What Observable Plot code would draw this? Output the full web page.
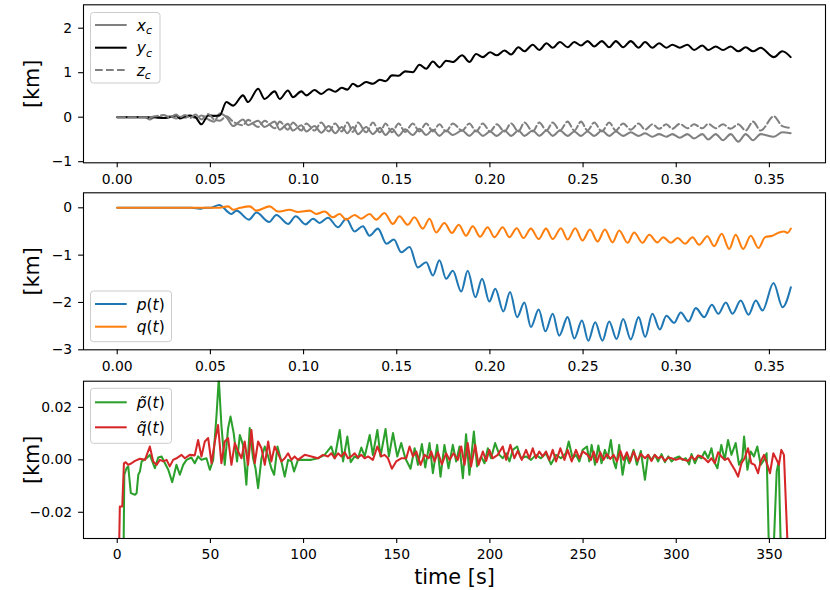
<!DOCTYPE html>
<html><head><meta charset="utf-8">
<script src="https://cdn.jsdelivr.net/npm/d3@7"></script>
<script src="https://cdn.jsdelivr.net/npm/@observablehq/plot@0.6"></script>
<style>
html,body{margin:0;padding:0;background:#fff;overflow:hidden;}
#chart{width:830px;height:590px;position:relative;font-family:"DejaVu Sans";}
#chart svg{display:block;}
</style></head><body><div id="chart"></div>
<script>
// ---------- Panel 1: x_c, y_c, z_c (time in s; axis shows t/1000) ----------
const T1 = [0,15,17.5,20,25,28,31.8,33.6,36.5,39,
42,45.2,48.8,52,55,58.6,62.2,67.5,70.2,75.6,
79.1,84.5,87.2,91.6,94.3,98.8,101.5,105.9,109.5,113.5,
117,120.5,123.5,126.5,129.2,133.6,137.2,141,144,147.5,
151,154.5,158.6,162.2,165.8,169.4,172.9,176.5,180.1,185.1,
189,192.6,196.2,200.1,203.7,207.8,211.4,215.3,218.5,223,
226.5,230.4,233.7,237.6,241.7,245.3,248.9,252.4,256,260.1,
264,267.6,271.5,275.6,279.8,283.3,287.2,290.8,294.7,297.9,
301.9,306,309.6,314,317.2,321.2,325.1,329.2,333.3,337.3,
341.2,345.3,352.4,356.9,361.4];
const YC = [0,0,0,0,-0.02,0,0.04,-0.03,0.02,0.04,
0,-0.16,0.04,0.03,0.04,0.34,0.26,0.49,0.34,0.64,
0.41,0.58,0.41,0.60,0.45,0.58,0.49,0.61,0.52,0.63,
0.57,0.66,0.62,0.75,0.69,0.79,0.75,0.84,0.81,0.94,
0.93,1.03,1.01,1.18,1.09,1.25,1.12,1.27,1.24,1.39,
1.24,1.42,1.35,1.46,1.39,1.50,1.41,1.57,1.48,1.63,
1.51,1.66,1.56,1.69,1.57,1.69,1.61,1.71,1.59,1.71,
1.57,1.71,1.57,1.71,1.56,1.69,1.56,1.66,1.56,1.63,
1.56,1.63,1.51,1.61,1.51,1.59,1.51,1.59,1.48,1.57,
1.48,1.56,1.35,1.48,1.35];
const XC = [0,0,-0.05,0,-0.02,0.02,-0.03,0.01,-0.01,0.03,
-0.02,0.04,-0.05,-0.1,0.08,0,-0.2,-0.05,-0.18,-0.08,
-0.22,-0.1,-0.28,-0.15,-0.3,-0.18,-0.32,-0.2,-0.35,-0.2,
-0.36,-0.22,-0.36,-0.22,-0.38,-0.22,-0.38,-0.24,-0.4,-0.26,
-0.42,-0.27,-0.4,-0.26,-0.4,-0.28,-0.42,-0.3,-0.4,-0.3,
-0.42,-0.3,-0.42,-0.32,-0.42,-0.3,-0.42,-0.3,-0.42,-0.3,
-0.42,-0.3,-0.42,-0.3,-0.42,-0.32,-0.42,-0.32,-0.42,-0.3,
-0.42,-0.32,-0.42,-0.34,-0.42,-0.36,-0.44,-0.38,-0.44,-0.38,
-0.46,-0.38,-0.48,-0.38,-0.5,-0.38,-0.52,-0.38,-0.55,-0.38,
-0.52,-0.38,-0.44,-0.34,-0.36];
const ZC = [0,0,0,0.02,0.05,0,0.06,0,0.05,-0.02,
0.06,-0.05,0.07,-0.05,-0.08,0.02,-0.1,-0.18,-0.06,-0.22,
-0.08,-0.25,-0.1,-0.28,-0.12,-0.3,-0.14,-0.3,-0.12,-0.32,
-0.14,-0.32,-0.12,-0.33,-0.12,-0.34,-0.12,-0.34,-0.14,-0.34,
-0.14,-0.33,-0.14,-0.32,-0.14,-0.32,-0.16,-0.32,-0.14,-0.3,
-0.14,-0.32,-0.14,-0.32,-0.16,-0.32,-0.14,-0.32,-0.12,-0.32,
-0.12,-0.3,-0.12,-0.3,-0.1,-0.3,-0.1,-0.3,-0.12,-0.32,
-0.12,-0.3,-0.14,-0.28,-0.14,-0.28,-0.16,-0.26,-0.16,-0.26,
-0.15,-0.25,-0.16,-0.25,-0.15,-0.25,-0.16,-0.26,-0.16,-0.3,
-0.1,-0.3,0.02,-0.2,-0.24];

// ---------- Panel 2: p(t), q(t) ----------
const TP = [0,40,44.3,47,50,54.7,61.3,64,70.7,74.7,
81.5,85.4,91.7,95.8,101.1,105.1,108.6,113.1,118.5,122.9,
127.4,131.8,135.4,139.9,144.5,148.5,152.4,156.9,161.3,165.8,
169.4,172.9,176.5,180.1,184.6,188.1,192.2,195.8,199.7,202.9,
207.2,210.8,214.6,218.5,222,226.2,229.8,233.7,237.2,241.7,
245.3,249.4,252.8,256.5,260.4,264,268,271.5,275.6,279.8,
283.3,287.2,291.2,294.7,298.9,302.4,306.6,310.5,315,319.1,
322.6,326.6,330.2,334.6,338.8,342.7,346.3,352.2,357.1,361.5];
const PV = [0,0,-0.02,0,0,0.06,-0.13,-0.06,-0.25,-0.10,
-0.30,-0.15,-0.34,-0.18,-0.35,-0.23,-0.32,-0.21,-0.41,-0.23,
-0.50,-0.39,-0.59,-0.44,-0.76,-0.67,-0.94,-0.83,-1.26,-1.15,
-1.43,-1.11,-1.50,-1.33,-1.77,-1.33,-1.89,-1.50,-1.98,-1.71,
-2.19,-1.78,-2.31,-2.00,-2.52,-2.15,-2.61,-2.24,-2.70,-2.31,
-2.76,-2.38,-2.81,-2.42,-2.81,-2.40,-2.77,-2.35,-2.78,-2.31,
-2.73,-2.24,-2.57,-2.28,-2.43,-2.21,-2.40,-2.12,-2.31,-2.05,
-2.24,-2.00,-2.24,-1.96,-2.26,-1.96,-2.17,-1.59,-2.10,-1.68];
const TQ = [0,40,50,55,59.5,62.2,66,71.1,74.7,81.8,
86.3,92.5,97,103.3,106.8,111.3,115.8,119.3,122.9,127.4,
130.9,135.4,139,143.4,147.9,151.5,155.9,159.5,164,167.6,
171.1,175.6,179.6,183.3,187.2,190.8,194.7,198.8,202.4,206.9,
210.4,214.4,218,222,226.2,230.1,233.7,238.1,241.7,245.8,
249.7,253.7,257.8,261.7,265.8,269.4,273.9,277.4,281.9,285.5,
289.9,293,297.1,300.7,304.8,308.7,312.3,316.7,320.3,324.4,
328.4,331.9,335.9,340,344.1,347.7,351.6,355.2,357.9,359.7,
361.5];
const QV = [0,0,0,0,0.03,-0.04,0,0.03,-0.06,0.03,
-0.08,-0.04,-0.09,-0.06,-0.13,-0.08,-0.20,-0.13,-0.25,-0.15,
-0.23,-0.13,-0.25,-0.11,-0.34,-0.18,-0.36,-0.20,-0.44,-0.23,
-0.52,-0.32,-0.53,-0.36,-0.59,-0.39,-0.61,-0.41,-0.62,-0.41,
-0.62,-0.43,-0.64,-0.44,-0.66,-0.44,-0.66,-0.43,-0.67,-0.43,
-0.69,-0.46,-0.71,-0.46,-0.73,-0.48,-0.74,-0.52,-0.74,-0.57,
-0.73,-0.62,-0.74,-0.64,-0.76,-0.62,-0.78,-0.60,-0.81,-0.55,
-0.87,-0.57,-0.87,-0.59,-0.85,-0.62,-0.59,-0.52,-0.50,-0.53,
-0.44];

// ---------- Panel 3: p~(t), q~(t)  [t (s), value (km)] ----------
const PTILDE = [[0,-0.06],[3.2,-0.05],[3.8,-0.0057],[5.0,-0.0032],[5.9,-0.0025],[7.3,-0.0127],[9.5,-0.0133],[10.4,-0.0127],[11.3,-0.0057],[12.2,-0.0044],
[13.1,-0.0006],[14.5,0],[15.7,0.0006],[17.5,0.0019],[20.2,-0.0032],[22.0,0.0009],[23.8,0.0013],[25.6,-0.0013],[27.4,-0.0038],[29.5,-0.0085],
[31.8,-0.0019],[33.6,-0.0057],[35.4,-0.0019],[37.2,0],[39.8,0.0009],[41.6,-0.0013],[43.4,0.0013],[45.2,0],[47.9,0.0006],[49.7,-0.0038],
[51.5,0],[53.3,0.0172],[54.5,0.031],[55.9,0.0133],[57.7,-0.0019],[59.5,0.0121],[60.8,0.0165],[62.5,0.0102],[64.3,-0.0006],[65.8,0.0095],
[67.5,0.0057],[69.3,-0.0095],[71.1,0.0121],[72.9,0.0006],[74.2,-0.0032],[75.6,-0.0108],[77.4,0.0006],[79.2,0.0051],[81.0,0.0013],[82.7,-0.0032],
[84.2,-0.0057],[86.0,0.0051],[88.1,-0.0006],[89.9,-0.0064],[91.7,0],[93.5,-0.0006],[94.9,-0.0044],[97.0,0],[100.6,0],[104.2,0],
[107.7,0.0006],[111.3,0.0019],[114.9,0.0051],[116.7,0.0006],[119.4,0.0114],[121.2,-0.0006],[123.5,0.0089],[125.3,-0.0009],[127.4,0.0013],[129.2,0.0006],
[131.0,0.0047],[132.8,0.0013],[135.5,0.0095],[137.2,0.0019],[139.6,0.0114],[141.3,0.0013],[144.0,0.0118],[145.8,0.0013],[148.0,0.0102],[150.3,0.0013],
[152.4,0.0064],[154.6,0.0006],[157.4,-0.0034],[159.6,0.0044],[161.4,-0.0019],[163.5,0.0060],[165.3,-0.0029],[167.6,0.0064],[169.4,-0.0051],[171.7,0.0057],
[173.5,-0.0064],[175.6,0.0057],[177.8,-0.0032],[180.1,0.0057],[181.9,-0.0006],[183.7,0.0051],[185.5,-0.0070],[187.2,0.0098],[189.0,-0.0057],[191.4,0.0108],
[193.1,-0.0025],[195.3,0.0013],[197.1,-0.0013],[198.9,0.0044],[200.6,0.0006],[202.8,0.0064],[205.1,0.0019],[206.9,0.0006],[208.7,0.0025],[210.5,-0.0006],
[212.3,0.0038],[214.6,0.0051],[216.7,0.0006],[219.4,0.0013],[222.1,0],[224.7,0.0019],[227.4,0.0006],[230.1,0.0025],[232.8,-0.0017],[235.5,0.0019],
[238.1,0.0006],[240.8,0.0025],[242.3,0.0070],[244.4,0.0006],[246.2,0.0019],[248.0,-0.0006],[249.8,0.0038],[252.1,0.0051],[253.3,-0.0006],[254.6,0.0057],
[256.4,-0.0019],[258.2,0.0055],[259.9,-0.0013],[261.7,0.0038],[263.2,0.0006],[264.9,0.0076],[266.4,-0.0006],[267.6,-0.0032],[269.4,0.0057],[271.2,-0.0057],
[273.0,0.0019],[274.8,-0.0013],[277.1,0.0038],[278.9,-0.0019],[281.0,0.0034],[283.2,-0.0076],[284.9,0.0019],[286.7,0],[288.5,0.0019],[290.3,-0.0006],
[292.1,0.0022],[293.9,-0.0009],[295.7,0.0013],[297.5,-0.0006],[299.2,0.0006],[301.6,0.0013],[303.3,0],[305.1,0.0006],[306.9,-0.0017],[308.2,0.0022],
[310.0,-0.0013],[311.7,0.0013],[313.5,0.0006],[315.3,0.0032],[317.1,0.0006],[318.9,0.0044],[320.3,-0.0006],[322.1,-0.0032],[324.2,0.0057],[326.0,0],
[327.8,0.0076],[329.6,0.0019],[331.9,0.0064],[333.7,-0.0019],[335.5,0.0006],[336.4,0.0089],[338.2,-0.0038],[340.0,0.0032],[341.7,0.0013],[343.5,0.0051],
[345.3,-0.0019],[347.1,0],[348.5,0.0025],[349.6,-0.0299],[351.0,-0.044],[352.5,-0.0299],[353.9,-0.0044],[355.0,-0.0006],[356.0,-0.031],[357.5,-0.044],
[362,-0.05]];
const QTILDE = [[0,-0.06],[0.6,-0.05],[1.4,-0.0178],[2.7,-0.0178],[3.6,-0.0013],[4.5,-0.0009],[5.9,-0.0019],[7.7,-0.0013],[9.5,-0.0004],[12.2,0.0004],
[14.9,0],[17.5,0.0051],[19.3,-0.0006],[21.1,-0.0019],[22.9,0],[24.7,-0.0006],[26.5,0],[28.2,-0.0025],[30.0,0],[31.8,0.0006],
[34.5,0.0019],[36.3,0.0006],[38.9,0.0019],[41.6,0.0017],[43.4,0.0076],[45.2,0.0013],[47.0,0.0070],[48.8,0.0083],[50.6,-0.0013],[52.4,0.0070],
[54.1,0.0133],[55.9,-0.0013],[57.7,0.0070],[59.5,0.0083],[61.3,-0.0019],[63.1,0.0064],[64.9,0.0032],[66.7,0.0006],[68.4,0.0070],[70.2,-0.0019],
[72.0,0.0114],[73.8,-0.0013],[75.6,0.0070],[77.4,0.0044],[79.2,-0.0019],[81.0,0.0070],[82.7,-0.0006],[84.5,0.0051],[86.3,0.0025],[88.1,-0.0006],
[89.9,0.0006],[91.7,0.0025],[93.5,0],[95.2,0.0013],[97.0,0],[100.6,0.0019],[104.2,0.0013],[107.7,0.0006],[110.4,0.0019],[113.1,0.0013],
[114.9,0.0025],[116.7,0.0006],[118.5,0.0025],[120.3,0.0013],[122.1,0.0029],[123.8,0.0006],[125.6,0.0013],[127.4,0.0025],[129.2,0.0009],[131.0,0.0019],
[132.8,0.0006],[134.6,0.0013],[137.2,0],[139.6,0.0051],[141.7,0.0013],[143.5,0.0019],[145.3,0.0006],[147.4,-0.0034],[149.7,-0.0006],[152.4,0.0006],
[155.1,0.0006],[156.9,0.0051],[158.7,0.0013],[160.5,0.0032],[162.8,-0.0019],[164.9,0.0019],[167.1,0.0006],[168.5,0.0032],[170.3,-0.0006],[172.1,0.0029],
[174.2,-0.0017],[176.5,0.0025],[178.3,0],[180.5,0.0025],[182.8,0],[184.6,0.0051],[186.4,-0.0019],[188.1,0.0064],[189.9,-0.0025],[192.1,0.0057],
[193.9,-0.0019],[196.2,0.0032],[198.0,-0.0004],[199.7,0.0038],[201.5,0.0006],[204.2,0.0019],[206.9,0.0051],[208.7,0],[211.0,0.0057],[213.1,0.0006],
[214.9,0.0034],[217.1,0],[219.4,0.0038],[221.2,0.0006],[223.0,0.0044],[224.7,0.0006],[226.5,0.0032],[228.3,0.0013],[230.1,0.0032],[231.9,0],
[233.7,0.0038],[235.5,-0.0006],[237.8,0.0044],[240.0,0],[241.7,0.0038],[243.9,-0.0006],[246.2,0.0038],[248.0,0.0006],[249.8,0.0032],[252.4,0.0019],
[254.2,0],[255.7,0.0032],[257.4,-0.0009],[259.2,0.0029],[261.0,0],[262.8,0.0022],[264.6,0.0004],[266.4,0.0019],[268.2,-0.0006],[270.0,0.0034],
[271.7,0],[273.5,0.0029],[275.3,-0.0006],[277.1,0.0032],[279.2,-0.0004],[281.0,0.0022],[283.2,0.0006],[284.9,0.0019],[286.7,-0.0004],[288.5,0.0019],
[290.3,0.0006],[292.1,0.0013],[293.9,-0.0004],[295.7,0.0009],[297.5,0.0006],[299.8,0],[302.1,0.0006],[304.2,0],[306.4,-0.0004],[308.2,0.0013],
[310.0,0],[311.7,0.0017],[313.5,0.0013],[315.3,0.0004],[317.1,-0.0009],[318.9,0.0006],[320.7,-0.0013],[322.5,0.0029],[324.2,0.0013],[326.0,0],
[327.8,0.0006],[329.6,-0.0017],[331.4,-0.0038],[333.2,-0.0064],[335.0,-0.0013],[336.7,0.0006],[338.5,0.0044],[340.3,-0.0013],[342.1,-0.0019],[343.9,-0.0051],
[345.3,-0.0006],[347.1,0.0019],[348.9,-0.0019],[350.3,-0.0051],[352.1,0.0025],[353.9,0],[355.1,-0.0019],[356.4,0.0038],[357.8,0.0019],[359.6,-0.0299],
[360.5,-0.044],[362,-0.05]];

// ---------- ticks ----------
const X_TICKS = [0,50,100,150,200,250,300,350];
const Y1_TICKS = [-1,0,1,2];
const Y2_TICKS = [-3,-2,-1,0];
const Y3_TICKS = [-0.02,0,0.02];

// ---------- layout / style ----------
const W = 830, ML = 83, MR = 5;
const X_DOMAIN = [-18.1, 380.1];
const LW = 2.05;
const DASH = "7.7,3.3";
const FS_TICK = 13.9, FS_LABEL = 20.8, FS_LEG = 15.5;
const C = {x: "#808080", y: "#000000", z: "#808080", p: "#1f77b4", q: "#ff7f0e", pt: "#2ca02c", qt: "#d62728"};
const minus = s => s.replace("-", "\u2212");

const zip = (T, V) => T.map((t, i) => ({t, v: V[i]}));
const pairs = P => P.map(([t, v]) => ({t, v}));

function panel({height, mt, mb, yDomain, yTicks, yFmt, xFmt, lines, extra = []}) {
  return Plot.plot({
    width: W, height, marginLeft: ML, marginRight: MR, marginTop: mt, marginBottom: mb,
    style: {fontFamily: "DejaVu Sans", fontSize: FS_TICK + "px", color: "black", background: "white", overflow: "visible"},
    x: {domain: X_DOMAIN},
    y: {domain: yDomain},
    marks: [
      ...lines.map(l => Plot.line(l.data, {x: "t", y: "v", stroke: l.color, strokeWidth: LW,
        strokeDasharray: l.dash, curve: l.curve, clip: true, strokeLinejoin: "round"})),
      Plot.frame({stroke: "black", strokeWidth: 1.1}),
      Plot.axisX({ticks: X_TICKS, tickFormat: xFmt, tickSize: 4.9, tickPadding: 6.1, label: null, fontSize: FS_TICK, strokeWidth: 1.1}),
      Plot.axisY({ticks: yTicks, tickFormat: yFmt, tickSize: 4.9, tickPadding: 6.4, label: null, fontSize: FS_TICK, strokeWidth: 1.1}),
      Plot.text(["[km]"], {text: d => d, frameAnchor: "left", dx: -51, rotate: -90, fontSize: FS_LABEL, textAnchor: "middle", lineAnchor: "middle"}),
      ...extra
    ]
  });
}

function legend(svg, box, items) {
  const g = d3.select(svg).append("g").attr("text-anchor", "start");
  g.append("rect").attr("x", box.x).attr("y", box.y).attr("width", box.w).attr("height", box.h)
    .attr("rx", 3).attr("fill", "white").attr("fill-opacity", 0.8).attr("stroke", "#cccccc").attr("stroke-width", 1);
  items.forEach(it => {
    g.append("line").attr("x1", 95).attr("x2", 126.7).attr("y1", it.y).attr("y2", it.y)
      .attr("stroke", it.color).attr("stroke-width", LW).attr("stroke-dasharray", it.dash || null);
    const t = g.append("text").attr("x", 136.7).attr("y", it.y).attr("dy", "0.36em")
      .attr("text-anchor", "start")
      .attr("font-family", "DejaVu Sans").attr("font-size", FS_LEG).attr("fill", "black");
    it.label(t);
  });
}
const subLabel = (a, b) => t => {
  t.append("tspan").attr("font-style", "italic").text(a);
  t.append("tspan").attr("font-style", "italic").attr("font-size", 11).attr("dy", 3.5).text(b);
};
const fnLabel = a => t => {
  t.append("tspan").attr("font-style", "italic").text(a);
  t.append("tspan").text("(");
  t.append("tspan").attr("font-style", "italic").text("t");
  t.append("tspan").text(")");
};

const fmtKs = d => (d / 1000).toFixed(2);
const fmtInt = d => minus(String(d));
const fmt2 = d => minus(d.toFixed(2));

const chart = document.getElementById("chart");

const p1 = panel({height: 188, mt: 4.3, mb: 25.7, yDomain: [-1.025, 2.526], yTicks: Y1_TICKS, yFmt: fmtInt, xFmt: fmtKs,
  lines: [
    {data: zip(T1, XC), color: C.x, curve: "monotone-x"},
    {data: zip(T1, YC), color: C.y, curve: "monotone-x"},
    {data: zip(T1, ZC), color: C.z, curve: "monotone-x", dash: DASH}
  ]});
legend(p1, {x: 90.5, y: 12.5, w: 69.5, h: 70.5}, [
  {y: 25, color: C.x, label: subLabel("x", "c")},
  {y: 47.7, color: C.y, label: subLabel("y", "c")},
  {y: 70, color: C.z, dash: DASH, label: subLabel("z", "c")}
]);

const p2 = panel({height: 188, mt: 4.3, mb: 26.7, yDomain: [-3.0, 0.317], yTicks: Y2_TICKS, yFmt: fmtInt, xFmt: fmtKs,
  lines: [
    {data: zip(TP, PV), color: C.p, curve: "monotone-x"},
    {data: zip(TQ, QV), color: C.q, curve: "monotone-x"}
  ]});
legend(p2, {x: 90.5, y: 103, w: 81, h: 50.7}, [
  {y: 116, color: C.p, label: fnLabel("p")},
  {y: 138.7, color: C.q, label: fnLabel("q")}
]);

const p3 = panel({height: 214, mt: 4.7, mb: 52, yDomain: [-0.03, 0.03], yTicks: Y3_TICKS, yFmt: fmt2, xFmt: d => String(d),
  lines: [
    {data: pairs(PTILDE), color: C.pt, curve: "linear"},
    {data: pairs(QTILDE), color: C.qt, curve: "linear"}
  ],
  extra: [Plot.text(["time [s]"], {text: d => d, frameAnchor: "bottom", dy: 39, fontSize: FS_LABEL, textAnchor: "middle", lineAnchor: "middle"})]
});
legend(p3, {x: 90.5, y: 12.3, w: 81, h: 55}, [
  {y: 26.3, color: C.pt, label: fnLabel("p\u0303")},
  {y: 51.3, color: C.qt, label: fnLabel("q\u0303")}
]);

chart.append(p1, p2, p3);
</script>
</body></html>
